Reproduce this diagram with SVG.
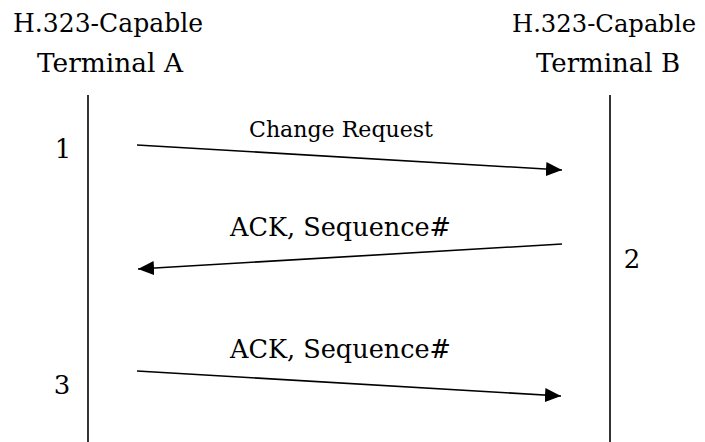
<svg xmlns="http://www.w3.org/2000/svg" width="705" height="442" viewBox="0 0 705 442">
<style>
text{font-family:"DejaVu Serif",serif;fill:#000}
.h{font-size:26px}
.hr{font-size:24.5px}
.n{font-size:26px;text-anchor:middle}
.m{font-size:26px}
.s{font-size:23px}
.life{stroke:#000;stroke-width:1.6;fill:none}
.msg{stroke:#000;stroke-width:1.6;fill:none;marker-end:url(#ah)}
</style>
<defs>
<marker id="ah" markerUnits="userSpaceOnUse" markerWidth="18" markerHeight="14" refX="16" refY="7" orient="auto">
<path d="M0,0 L16,7 L0,14 Z" fill="#000"/>
</marker>
</defs>
<rect width="705" height="442" fill="#fff"/>
<g id="terminalA">
<text class="h" x="13" y="32" textLength="190" lengthAdjust="spacingAndGlyphs">H.323-Capable</text>
<text class="h" x="37" y="72" textLength="146" lengthAdjust="spacingAndGlyphs">Terminal A</text>
<line class="life" x1="88" y1="95" x2="88" y2="442"/>
</g>
<g id="terminalB">
<text class="hr" x="512" y="32" textLength="184" lengthAdjust="spacingAndGlyphs">H.323-Capable</text>
<text class="h" x="536" y="72" textLength="144" lengthAdjust="spacingAndGlyphs">Terminal B</text>
<line class="life" x1="610" y1="95" x2="610" y2="442"/>
</g>
<g id="steps">
<text class="n" x="63" y="158">1</text>
<text class="n" x="632" y="268">2</text>
<text class="n" x="62" y="394">3</text>
</g>
<g id="connectors">
<line class="msg" x1="137" y1="145" x2="562" y2="170"/>
<text class="s" x="249" y="137" textLength="184" lengthAdjust="spacingAndGlyphs">Change Request</text>
<line class="msg" x1="562" y1="244" x2="138" y2="269"/>
<text class="m" x="230" y="236" textLength="221" lengthAdjust="spacingAndGlyphs">ACK, Sequence#</text>
<line class="msg" x1="137" y1="371" x2="561" y2="396"/>
<text class="m" x="230" y="358" textLength="221" lengthAdjust="spacingAndGlyphs">ACK, Sequence#</text>
</g>
</svg>
